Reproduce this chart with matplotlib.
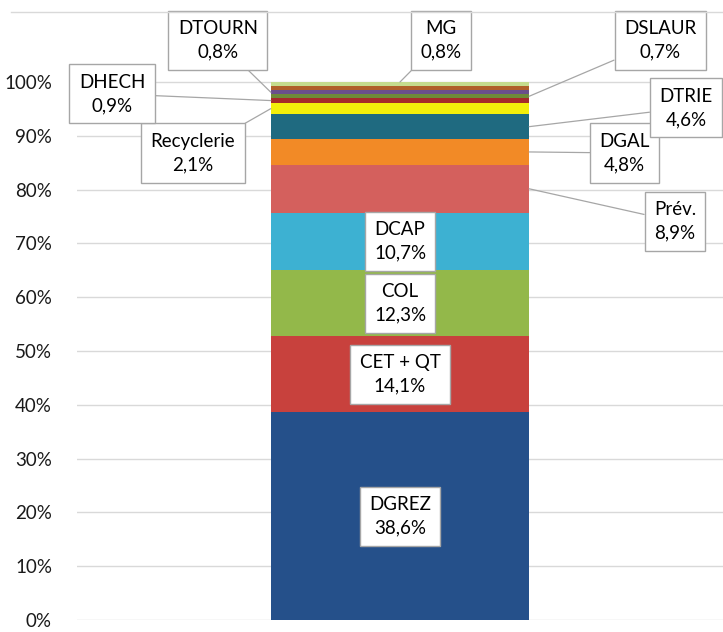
import numpy as np
import matplotlib
matplotlib.use('Agg')
import matplotlib.pyplot as plt
from matplotlib.lines import Line2D

plt.rcParams['font.family'] = ['Lato', 'DejaVu Sans']
plt.rcParams['font.size'] = 13.5

# segments, bottom to top
names = ['DGREZ', 'CET + QT', 'COL', 'DCAP', 'Prév.', 'DGAL', 'DTRIE',
         'Recyclerie', 'DHECH', 'DSLAUR', 'DTOURN', '', 'MG']
values = [38.6, 14.1, 12.3, 10.7, 8.9, 4.8, 4.6, 2.1, 0.9, 0.7, 0.8, 0.7, 0.8]
colors = ['#25508a', '#c8413d', '#93b84a', '#3db1d2', '#d4605d', '#f28a26',
          '#1f6a80', '#f3ee0a', '#a52a2a', '#6e8a38', '#6a4f8c', '#b0602a',
          '#c5dc8e']

fig = plt.figure(figsize=(7.23, 6.32), dpi=100)
ax = fig.add_axes([77/723, 12/632, 646/723, 608/632])

ymax = 1 + 70/538
ax.set_xlim(-0.5, 0.5)
ax.set_ylim(0, ymax)

vals = np.array(values) / 100
bottoms = np.concatenate([[0], np.cumsum(vals)[:-1]])
width = 0.4
ax.bar(np.zeros(len(vals)), vals, width, bottom=bottoms, color=colors,
       linewidth=0, zorder=3)

yt = np.arange(0, 1.01, 0.1)
ax.set_yticks(yt)
ax.set_yticklabels(['%d%%' % round(v * 100) for v in yt], color='#1a1a1a')
ax.set_xticks([])
for y in yt:
    ax.axhline(y, color='#d9d9d9', lw=1, zorder=1)
for s in ax.spines.values():
    s.set_visible(False)
ax.tick_params(axis='y', length=0, pad=18)
fig.add_artist(Line2D([11/723, 1], [1 - 12/632, 1 - 12/632],
                      color='#d9d9d9', lw=1))

box = dict(boxstyle='square,pad=0.5', fc='white', ec='#a6a6a6', lw=1)

def lab(i):
    return '%s\n%s%%' % (names[i], ('%.1f' % values[i]).replace('.', ','))

# labels inside bar
for i in range(4):
    ax.text(0, bottoms[i] + vals[i] / 2, lab(i), ha='center', va='center',
            bbox=box, zorder=5, linespacing=1.45)

# outside labels: index, anchor x on the bar, text position
outside = [
    (4, 0.2, (0.4257, 0.741)),
    (5, 0.2, (0.348, 0.868)),
    (6, 0.2, (0.4427, 0.952)),
    (7, -0.2, (-0.3204, 0.868)),
    (8, -0.2, (-0.4458, 0.978)),
    (9, 0.2, (0.4025, 1.077)),
    (10, -0.2, (-0.282, 1.077)),
    (12, 0.0, (0.0635, 1.077)),
]
for i, xa, xt in outside:
    ya = bottoms[i] + vals[i] / 2
    if i == 12:
        ya = bottoms[i] + vals[i]
    ax.annotate(lab(i), xy=(xa, ya), xytext=xt, ha='center', va='center',
                bbox=box, zorder=5, linespacing=1.45,
                arrowprops=dict(arrowstyle='-', color='#a6a6a6', lw=0.9,
                                shrinkA=0, shrinkB=0))

fig.savefig('out.png', dpi=100)
